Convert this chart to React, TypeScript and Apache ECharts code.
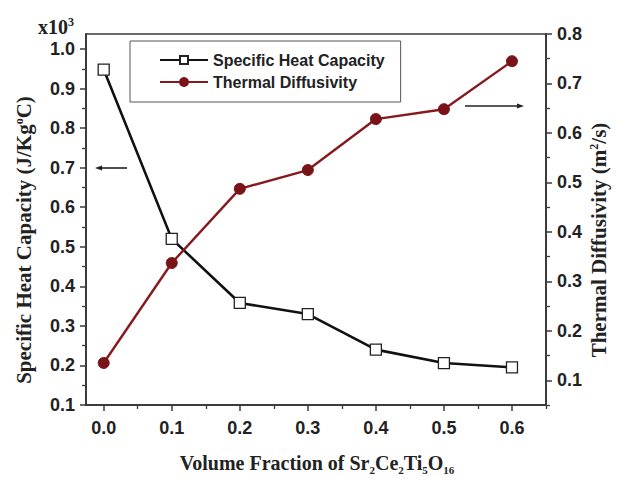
import React, { useEffect, useRef } from "react";
import * as echarts from "echarts";

const volumeFraction = [0, 0.1, 0.2, 0.3, 0.4, 0.5, 0.6];
const heatCapacity = [0.948, 0.52, 0.358, 0.33, 0.24, 0.206, 0.195];
const diffusivity = [0.135, 0.337, 0.487, 0.525, 0.628, 0.648, 0.745];

const xMajor = [0, 0.1, 0.2, 0.3, 0.4, 0.5, 0.6];
const xMinor = [0.05, 0.15, 0.25, 0.35, 0.45, 0.55, 0.65];
const leftMajor = [0.1, 0.2, 0.3, 0.4, 0.5, 0.6, 0.7, 0.8, 0.9, 1.0];
const leftMinor = [0.15, 0.25, 0.35, 0.45, 0.55, 0.65, 0.75, 0.85, 0.95];
const rightMajor = [0.1, 0.2, 0.3, 0.4, 0.5, 0.6, 0.7, 0.8];
const rightMinor = [0.05, 0.15, 0.25, 0.35, 0.45, 0.55, 0.65, 0.75];

const X_MIN = -0.026, X_MAX = 0.65;
const L_MIN = 0.1, L_MAX = 1.038;
const R_MIN = 0.05, R_MAX = 0.8;

const AXIS_COLOR = "#3a3a3a";
const RED = "#861a1e";
const SANS = "Liberation Sans, Arial, sans-serif";
const SERIF = "Liberation Serif, Times New Roman, serif";

export default function App() {
  const ref = useRef<HTMLDivElement>(null);
  useEffect(() => {
    document.body.style.margin = "0";
    const chart = echarts.init(ref.current!, null, { renderer: "svg" });
    const fmt = (v: number) => v.toFixed(1);
    const lblStyle = { fontFamily: SANS, fontWeight: "bold", fontSize: 18, color: "#222" };
    const minorAxisBase = {
      axisLine: { show: true, onZero: false, lineStyle: { color: AXIS_COLOR, width: 1.5 } },
      axisLabel: { show: false },
      splitLine: { show: false },
    };
    const minorTick = (vals: number[]) => ({
      show: true, length: 4, customValues: vals, lineStyle: { color: AXIS_COLOR, width: 1.3 },
    });
    chart.setOption({
      animation: false,
      backgroundColor: "#fff",
      grid: {
        left: 86, right: 72, top: 34, bottom: 73,
        show: true, borderColor: AXIS_COLOR, borderWidth: 1.5, backgroundColor: "transparent",
      },
      xAxis: [
        {
          type: "value", min: X_MIN, max: X_MAX,
          axisLine: { show: true, onZero: false, lineStyle: { color: AXIS_COLOR, width: 1.5 } },
          axisTick: { show: true, length: 6, customValues: xMajor, lineStyle: { color: AXIS_COLOR, width: 1.5 } },
          axisLabel: { ...lblStyle, margin: 14, customValues: xMajor, formatter: fmt },
          splitLine: { show: false },
        },
        {
          type: "value", min: X_MIN, max: X_MAX, position: "bottom",
          ...minorAxisBase,
          axisTick: minorTick(xMinor),
        },
      ],
      yAxis: [
        {
          type: "value", min: L_MIN, max: L_MAX, position: "left",
          axisLine: { show: true, onZero: false, lineStyle: { color: AXIS_COLOR, width: 1.5 } },
          axisTick: { show: true, length: 6, customValues: leftMajor, lineStyle: { color: AXIS_COLOR, width: 1.5 } },
          axisLabel: { ...lblStyle, margin: 11, customValues: leftMajor, formatter: fmt },
          splitLine: { show: false },
        },
        {
          type: "value", min: R_MIN, max: R_MAX, position: "right",
          axisLine: { show: true, onZero: false, lineStyle: { color: AXIS_COLOR, width: 1.5 } },
          axisTick: { show: true, length: 6, customValues: rightMajor, lineStyle: { color: AXIS_COLOR, width: 1.5 } },
          axisLabel: { ...lblStyle, margin: 11, customValues: rightMajor, formatter: fmt },
          splitLine: { show: false },
        },
        {
          type: "value", min: L_MIN, max: L_MAX, position: "left",
          ...minorAxisBase,
          axisTick: minorTick(leftMinor),
        },
        {
          type: "value", min: R_MIN, max: R_MAX, position: "right",
          ...minorAxisBase,
          axisTick: minorTick(rightMinor),
        },
      ],
      legend: {
        show: true,
        orient: "vertical",
        left: 130, top: 41,
        padding: [11, 16, 12, 29],
        itemGap: 6,
        itemWidth: 48,
        itemHeight: 10,
        borderColor: "#555",
        borderWidth: 1,
        backgroundColor: "#fff",
        textStyle: { fontFamily: SANS, fontWeight: "bold", fontSize: 16, color: "#222", lineHeight: 16 },
        data: ["Specific Heat Capacity", "Thermal Diffusivity"],
      },
      series: [
        {
          name: "Specific Heat Capacity",
          type: "line",
          xAxisIndex: 0, yAxisIndex: 0,
          data: volumeFraction.map((x, i) => [x, heatCapacity[i]]),
          symbol: "rect",
          symbolSize: 11,
          lineStyle: { color: "#111", width: 2.6 },
          itemStyle: { color: "#fff", borderColor: "#222", borderWidth: 1.3 },
          z: 3,
        },
        {
          name: "Thermal Diffusivity",
          type: "line",
          xAxisIndex: 0, yAxisIndex: 1,
          data: volumeFraction.map((x, i) => [x, diffusivity[i]]),
          symbol: "circle",
          symbolSize: 11,
          lineStyle: { color: RED, width: 2.4 },
          itemStyle: { color: "#7a1317", borderColor: "#7a1317", borderWidth: 1 },
          z: 4,
        },
      ],
      graphic: [
        {
          type: "text", left: 38, top: 16,
          style: {
            text: "x10{sup|3}",
            font: `bold 20px ${SERIF}`,
            fill: "#222",
            rich: { sup: { fontSize: 12, fontWeight: "bold", fontFamily: SERIF, verticalAlign: "top", padding: [0, 0, 10, 0] } },
          },
        },
        {
          type: "text", x: 24, y: 240, rotation: Math.PI / 2,
          style: {
            text: "Specific Heat Capacity (J/Kg{sup|o}C)",
            font: `bold 21px ${SERIF}`,
            fill: "#222",
            align: "center", verticalAlign: "middle",
            rich: { sup: { fontSize: 12, fontWeight: "bold", fontFamily: SERIF, padding: [0, 0, 11, 0] } },
          },
        },
        {
          type: "text", x: 599, y: 240, rotation: Math.PI / 2,
          style: {
            text: "Thermal Diffusivity (m{sup|2}/s)",
            font: `bold 21px ${SERIF}`,
            fill: "#222",
            align: "center", verticalAlign: "middle",
            rich: { sup: { fontSize: 12, fontWeight: "bold", fontFamily: SERIF, padding: [0, 0, 11, 0] } },
          },
        },
        {
          type: "text", x: 317, y: 463,
          style: {
            text: "Volume Fraction of Sr{sub|2}Ce{sub|2}Ti{sub|5}O{sub|16}",
            font: `bold 20px ${SERIF}`,
            fill: "#222",
            align: "center", verticalAlign: "middle",
            rich: { sub: { fontSize: 11, fontWeight: "bold", fontFamily: SERIF, padding: [13, 0, 0, 0] } },
          },
        },
        { type: "line", shape: { x1: 98, y1: 168, x2: 127, y2: 168 }, style: { stroke: "#222", lineWidth: 1.6 } },
        { type: "polygon", shape: { points: [[95, 168], [102, 165.5], [102, 170.5]] }, style: { fill: "#222" } },
        { type: "line", shape: { x1: 465, y1: 106, x2: 520, y2: 106 }, style: { stroke: "#222", lineWidth: 1.6 } },
        { type: "polygon", shape: { points: [[524, 106], [517, 103.5], [517, 108.5]] }, style: { fill: "#222" } },
      ],
    });
    return () => chart.dispose();
  }, []);
  return <div ref={ref} style={{ position: "fixed", left: 0, top: 0, width: 618, height: 478 }} />;
}
